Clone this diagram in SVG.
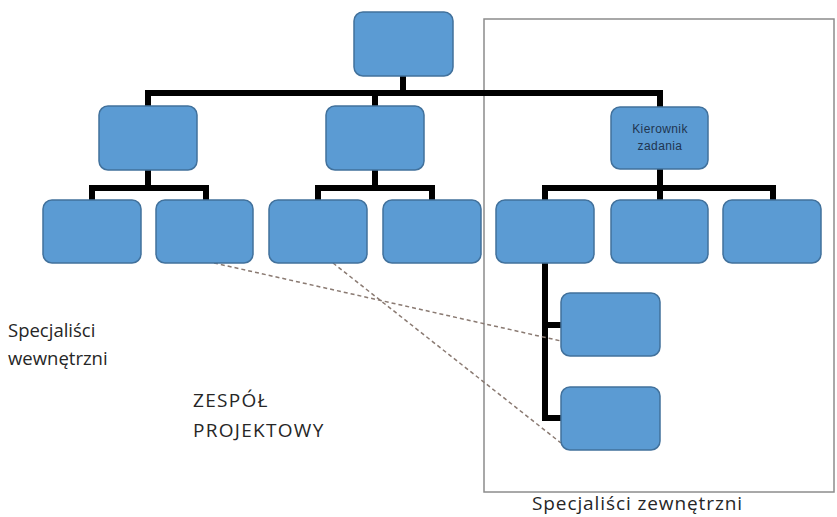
<svg xmlns="http://www.w3.org/2000/svg" width="837" height="517" viewBox="0 0 837 517">
  <style>
    .box { fill: #5b9bd3; stroke: #41719c; stroke-width: 1.5; }
    .bar { fill: none; stroke: #000; stroke-width: 6; stroke-linejoin: miter; stroke-linecap: butt; }
    .dash { fill: none; stroke: #8a7a72; stroke-width: 1.5; stroke-dasharray: 4 3; }
    .frame { fill: none; stroke: #8c8c8c; stroke-width: 1.5; }
    .label { font-family: "Open Sans", "Liberation Sans", sans-serif; font-size: 18.5px; fill: #262626; }
    .caps { font-size: 19px; letter-spacing: 1.3px; }
    .wide { font-size: 19px; letter-spacing: 0.9px; }
    .inner { font-family: "Liberation Sans", Arial, sans-serif; font-size: 12px; letter-spacing: 0.4px; fill: #1f3550; text-anchor: middle; }
  </style>
  <rect width="837" height="517" fill="#ffffff"/>

  <!-- external specialists frame -->
  <rect class="frame" x="484" y="19" width="350" height="473"/>

  <!-- connectors -->
  <g id="connectors">
    <path class="bar" d="M403 76 V93 M148 106 V93 H660 V107"/>
    <path class="bar" d="M375 93 V107"/>
    <path class="bar" d="M148 170 V188 M92 200 V188 H206 V200"/>
    <path class="bar" d="M375 170 V188 M318 200 V188 H432 V200"/>
    <path class="bar" d="M660 168 V188 M545 200 V188 H773 V200 M660 188 V200"/>
    <path class="bar" d="M545 263 V418 H561 M545 325 H561"/>
    <path class="dash" d="M214 263 L561 341"/>
    <path class="dash" d="M333 263 L561 443"/>
  </g>

  <g id="top"><rect class="box" x="354" y="12" width="99" height="64" rx="9"/></g>

  <g id="l2-left"><rect class="box" x="99" y="106" width="98" height="64" rx="9"/></g>
  <g id="l2-mid"><rect class="box" x="326" y="106" width="98" height="64" rx="9"/></g>
  <g id="kierownik">
    <rect class="box" x="611" y="107" width="97" height="62" rx="9"/>
    <text class="inner" x="660" y="133">Kierownik</text>
    <text class="inner" x="660" y="150">zadania</text>
  </g>

  <g id="l3-1"><rect class="box" x="43" y="200" width="98" height="63" rx="9"/></g>
  <g id="l3-2"><rect class="box" x="156" y="200" width="97" height="63" rx="9"/></g>
  <g id="l3-3"><rect class="box" x="269" y="200" width="98" height="63" rx="9"/></g>
  <g id="l3-4"><rect class="box" x="383" y="200" width="98" height="63" rx="9"/></g>
  <g id="l3-5"><rect class="box" x="496" y="200" width="98" height="63" rx="9"/></g>
  <g id="l3-6"><rect class="box" x="611" y="200" width="97" height="63" rx="9"/></g>
  <g id="l3-7"><rect class="box" x="723" y="200" width="98" height="63" rx="9"/></g>

  <g id="l4-1"><rect class="box" x="561" y="293" width="99" height="63" rx="9"/></g>
  <g id="l4-2"><rect class="box" x="561" y="387" width="99" height="63" rx="9"/></g>

  <!-- labels -->
  <text class="label" x="8" y="337">Specjaliści</text>
  <text class="label" x="8" y="365">wewnętrzni</text>
  <text class="label caps" x="193" y="407">ZESPÓŁ</text>
  <text class="label caps" x="193" y="437">PROJEKTOWY</text>
  <text class="label wide" x="532" y="510">Specjaliści zewnętrzni</text>
</svg>
